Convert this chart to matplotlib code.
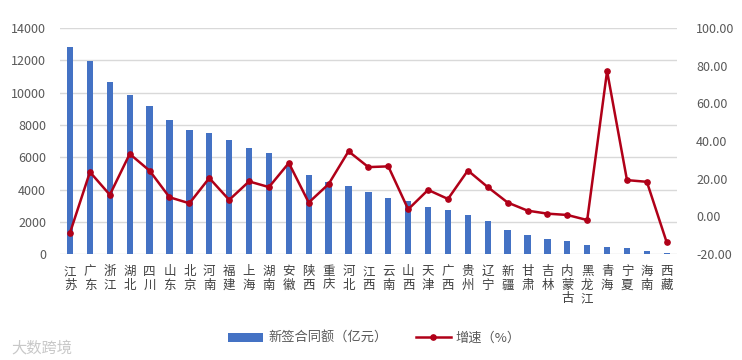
import matplotlib

matplotlib.use("Agg")
import matplotlib.pyplot as plt
from matplotlib.ticker import FormatStrFormatter

plt.rcParams["font.family"] = ["Noto Sans CJK SC", "DejaVu Sans"]

provinces = [
    "江苏", "广东", "浙江", "湖北", "四川", "山东", "北京", "河南", "福建", "上海",
    "湖南", "安徽", "陕西", "重庆", "河北", "江西", "云南", "山西", "天津", "广西",
    "贵州", "辽宁", "新疆", "甘肃", "吉林", "内蒙古", "黑龙江", "青海", "宁夏", "海南",
    "西藏",
]
contract_value = [
    12800, 11950, 10650, 9850, 9200, 8300, 7700, 7500, 7100, 6600,
    6250, 5550, 4900, 4450, 4200, 3850, 3500, 3300, 2950, 2750,
    2450, 2050, 1500, 1200, 950, 800, 550, 450, 380, 180,
    80,
]
growth = [
    -8.6, 23.6, 11.5, 33.2, 24.3, 10.2, 7.0, 20.4, 8.8, 18.6,
    15.6, 28.4, 7.4, 17.2, 34.6, 26.2, 26.6, 3.8, 14.1, 9.3,
    24.4, 15.6, 7.4, 3.1, 1.5, 0.8, -1.9, 77.2, 19.3, 18.4,
    -13.8,
]

bar_color = "#4472C4"
line_color = "#B00018"
text_color = "#595959"

fig = plt.figure(figsize=(7.42, 3.6), dpi=100)
ax = fig.add_axes([0.081, 0.294, 0.831, 0.628])
x = list(range(len(provinces)))

ax.bar(x, contract_value, width=0.32, color=bar_color, zorder=2, label="新签合同额（亿元）")
ax.set_ylim(0, 14000)
ax.set_yticks(range(0, 14001, 2000))
ax.set_xlim(-0.5, len(provinces) - 0.5)
ax.grid(axis="y", color="#D9D9D9", linewidth=1, zorder=0)
ax.set_axisbelow(True)
for side in ["top", "right", "left", "bottom"]:
    ax.spines[side].set_visible(False)
ax.tick_params(axis="y", length=0, labelsize=9, labelcolor=text_color, pad=10)
ax.set_xticks(x)
ax.set_xticklabels(["\n".join(p) for p in provinces], fontsize=9,
                   color="#404040", linespacing=1.05, va="top")
ax.tick_params(axis="x", length=0, pad=8)

ax2 = ax.twinx()
ax2.plot(x, growth, color=line_color, linewidth=1.8, marker="o", markersize=3.8,
         zorder=3, label="增速（%）")
ax2.set_ylim(-20, 100)
ax2.set_yticks(range(-20, 101, 20))
ax2.yaxis.set_major_formatter(FormatStrFormatter("%.2f"))
for side in ["top", "right", "left", "bottom"]:
    ax2.spines[side].set_visible(False)
ax2.tick_params(axis="y", length=0, labelsize=9, labelcolor=text_color, pad=14)

h1, l1 = ax.get_legend_handles_labels()
h2, l2 = ax2.get_legend_handles_labels()
fig.legend(h1 + h2, l1 + l2, loc="center", bbox_to_anchor=(0.505, 0.06), ncol=2,
           frameon=False, fontsize=9.5, labelcolor=text_color, handlelength=2.6,
           columnspacing=2.2, handletextpad=0.4)

fig.text(0.015, 0.02, "大数跨境", fontsize=11, color="#C8C8C8")

fig.savefig("out.png", dpi=100)
